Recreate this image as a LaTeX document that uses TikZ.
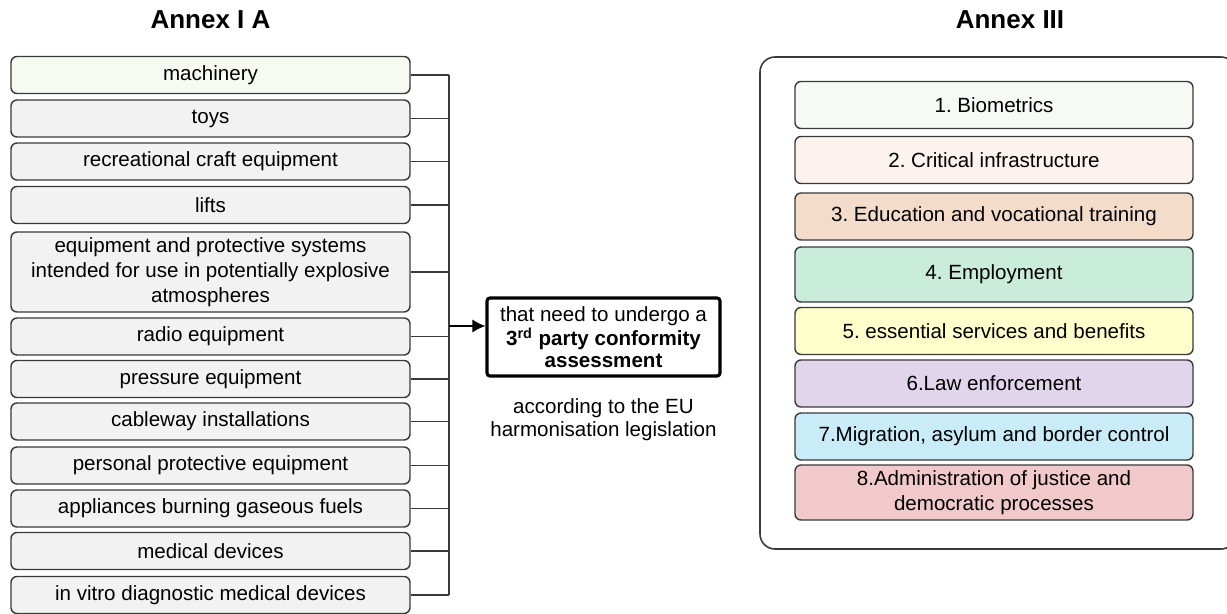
\documentclass[tikz,border=0pt]{standalone}
\usepackage{fontspec}
\setmainfont{Liberation Sans}
\usetikzlibrary{positioning}
\usetikzlibrary{arrows.meta}
\frenchspacing

\definecolor{linegray}{HTML}{3A3A3A}
\definecolor{boxgray}{HTML}{F2F2F2}
\definecolor{machgreen}{HTML}{F7FAF1}
\definecolor{bioC}{HTML}{F7FAF4}
\definecolor{infraC}{HTML}{FDF3EE}
\definecolor{eduC}{HTML}{F4DCCB}
\definecolor{emplC}{HTML}{C9EDDA}
\definecolor{servC}{HTML}{FFFFCC}
\definecolor{lawC}{HTML}{E1D5EC}
\definecolor{migrC}{HTML}{C9ECF8}
\definecolor{justC}{HTML}{F2C9CB}

\tikzset{
  item/.style={draw=linegray, line width=0.8pt, rounded corners=0.12cm, fill=boxgray,
    minimum width=7.98cm, minimum height=0.74cm, align=center, inner sep=1pt,
    font=\fontsize{11.7}{14.2}\selectfont},
  area/.style={item, minimum width=7.96cm, minimum height=0.94cm},
  stub/.style={linegray, line width=0.6pt},
  annex/.style={font=\fontsize{14.8}{17}\selectfont\bfseries},
}

\begin{document}
\begin{tikzpicture}
\fill[white] (0,0) rectangle (24.54,12.26);
\useasboundingbox (0,0) rectangle (24.54,12.26);
\clip (0,0) rectangle (24.54,12.26);

% headings
\node[annex] (annexIA) at (4.21,11.86) {Annex I A};
\node[annex] (annexIII) at (20.2,11.86) {Annex III};

% Annex I A list
\node[item,fill=machgreen] (mach) at (4.21,10.76) {machinery};
\node[item] (toys) at (4.21,9.89) {toys};
\node[item] (craft) at (4.21,9.03) {recreational craft equipment};
\node[item] (lifts) at (4.21,8.16) {lifts};
\node[item,minimum height=1.6cm] (atex) at (4.21,6.82) {equipment and protective systems\\intended for use in potentially explosive\\atmospheres};
\node[item] (radio) at (4.21,5.53) {radio equipment};
\node[item] (press) at (4.21,4.68) {pressure equipment};
\node[item] (cable) at (4.21,3.83) {cableway installations};
\node[item] (ppe) at (4.21,2.95) {personal protective equipment};
\node[item] (gas) at (4.21,2.09) {appliances burning gaseous fuels};
\node[item] (med) at (4.21,1.24) {medical devices};
\node[item] (ivd) at (4.21,0.36) {in vitro diagnostic medical devices};

% collecting line
\coordinate (bustop) at (8.98,10.76);
\coordinate (busend) at (8.98,0.36);
\coordinate (bus) at (8.98,5.74);
\draw[stub] (bustop) -- (busend);
\draw[stub] (mach.east) -- (mach.east -| bus);
\draw[stub] (toys.east) -- (toys.east -| bus);
\draw[stub] (craft.east) -- (craft.east -| bus);
\draw[stub] (lifts.east) -- (lifts.east -| bus);
\draw[stub] (atex.east) -- (atex.east -| bus);
\draw[stub] (radio.east) -- (radio.east -| bus);
\draw[stub] (press.east) -- (press.east -| bus);
\draw[stub] (cable.east) -- (cable.east -| bus);
\draw[stub] (ppe.east) -- (ppe.east -| bus);
\draw[stub] (gas.east) -- (gas.east -| bus);
\draw[stub] (med.east) -- (med.east -| bus);
\draw[stub] (ivd.east) -- (ivd.east -| bus);

% conformity assessment
\node[draw=black, line width=1.8pt, rounded corners=0.06cm, minimum width=4.66cm, minimum height=1.56cm,
  align=center, inner sep=1pt, font=\fontsize{11.7}{12.2}\selectfont] (assess) at (12.07,5.52)
  {that need to undergo a\\\textbf{3\textsuperscript{rd} party conformity}\\\textbf{assessment}};
\draw[black, line width=0.7pt, -{Latex[length=0.26cm,width=0.26cm]}] (bus) -- (bus -| assess.west);
\node[align=center, font=\fontsize{11.7}{13}\selectfont, below=0.3cm of assess] (legis)
  {according to the EU\\harmonisation legislation};

% Annex III list
\draw[linegray, line width=0.9pt, rounded corners=0.3cm] (15.2,1.28) rectangle (24.72,11.12);
\node[area,fill=bioC] (bio) at (19.88,10.16) {1. Biometrics};
\node[area,fill=infraC] (infra) at (19.88,9.06) {2. Critical infrastructure};
\node[area,fill=eduC] (edu) at (19.88,7.93) {3. Education and vocational training};
\node[area,fill=emplC,minimum height=1.1cm] (empl) at (19.88,6.77) {4. Employment};
\node[area,fill=servC] (serv) at (19.88,5.64) {5. essential services and benefits};
\node[area,fill=lawC] (law) at (19.88,4.59) {6.Law enforcement};
\node[area,fill=migrC] (migr) at (19.88,3.53) {7.Migration, asylum and border control};
\node[area,fill=justC,minimum height=1.1cm] (just) at (19.88,2.41) {8.Administration of justice and\\democratic processes};

\end{tikzpicture}
\end{document}
